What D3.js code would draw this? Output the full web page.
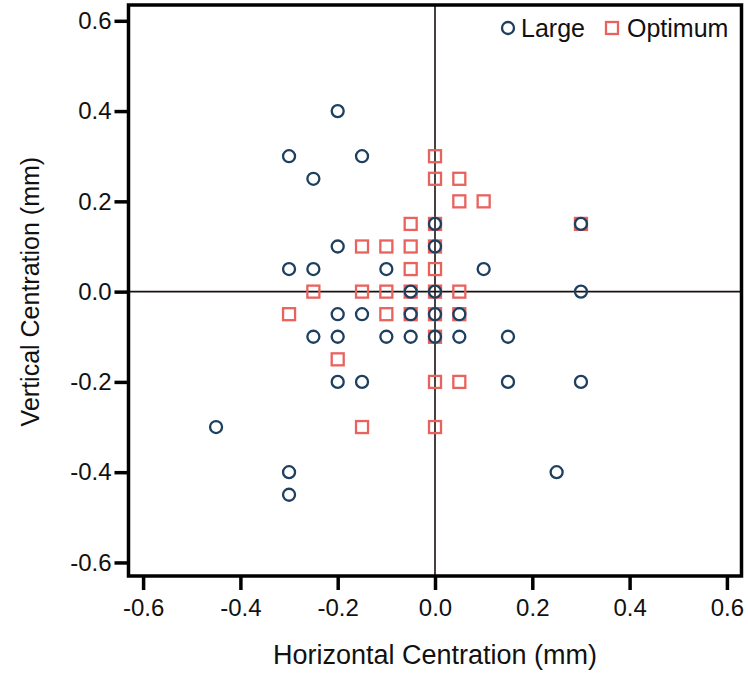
<!DOCTYPE html>
<html>
<head>
<meta charset="utf-8">
<script src="https://cdn.jsdelivr.net/npm/d3@7"></script>
<style>
  body { margin: 0; background: #fff; }
  svg { display: block; font-family: "Liberation Sans", Arial, sans-serif; }
</style>
</head>
<body>
<svg id="chart" width="748" height="675"></svg>
<script>
// Large group (circles): [horizontal, vertical] in mm
const largeX = [-0.2, -0.3, -0.15, -0.25, -0.2, -0.3, -0.25, -0.1, 0.1, 0.0, 0.0,
  -0.05, 0.0, 0.3, -0.2, -0.15, -0.05, 0.0, 0.05, -0.25, -0.2, -0.1, -0.05, 0.0,
  0.05, 0.15, -0.2, -0.15, 0.15, 0.3, -0.45, -0.3, -0.3, 0.25, 0.3];
const largeY = [0.4, 0.3, 0.3, 0.25, 0.1, 0.05, 0.05, 0.05, 0.05, 0.15, 0.1,
  0.0, 0.0, 0.0, -0.05, -0.05, -0.05, -0.05, -0.05, -0.1, -0.1, -0.1, -0.1, -0.1,
  -0.1, -0.1, -0.2, -0.2, -0.2, -0.2, -0.3, -0.4, -0.45, -0.4, 0.15];

// Optimum group (squares)
const optX = [0.0, 0.0, 0.05, 0.05, 0.1, -0.05, 0.0, -0.15, -0.1, -0.05, 0.0,
  -0.05, 0.0, -0.25, -0.15, -0.1, -0.05, 0.0, 0.05, -0.3, -0.1, -0.05, 0.0, 0.05,
  0.0, -0.2, 0.0, 0.05, -0.15, 0.0, 0.3];
const optY = [0.3, 0.25, 0.25, 0.2, 0.2, 0.15, 0.15, 0.1, 0.1, 0.1, 0.1,
  0.05, 0.05, 0.0, 0.0, 0.0, 0.0, 0.0, 0.0, -0.05, -0.05, -0.05, -0.05, -0.05,
  -0.1, -0.15, -0.2, -0.2, -0.3, -0.3, 0.15];

const tickValues = [-0.6, -0.4, -0.2, 0.0, 0.2, 0.4, 0.6];
const seriesNames = ["Large", "Optimum"];

const colLarge = "#1d3f60";
const colOpt = "#e8625e";

const svg = d3.select("#chart");
const margin = { top: 5, right: 6.5, bottom: 99, left: 128.5 };
const width = 748, height = 675;

const x = d3.scaleLinear().domain([-0.63, 0.63]).range([margin.left, width - margin.right]);
const y = d3.scaleLinear().domain([-0.63, 0.635]).range([height - margin.bottom, margin.top]);

const fmt = (d) => d3.format(".1f")(d).replace("\u2212", "-");

// axes
const xAxis = svg.append("g")
  .attr("transform", `translate(0,${height - margin.bottom})`)
  .call(d3.axisBottom(x).tickValues(tickValues).tickFormat(fmt).tickSize(14).tickPadding(9).tickSizeOuter(0));
const yAxis = svg.append("g")
  .attr("transform", `translate(${margin.left},0)`)
  .call(d3.axisLeft(y).tickValues(tickValues).tickFormat(fmt).tickSize(14).tickPadding(3).tickSizeOuter(0));

[xAxis, yAxis].forEach((a) => {
  a.select(".domain").remove();
  a.selectAll(".tick line").attr("stroke", "#000").attr("stroke-width", 3.5);
  a.selectAll(".tick text").attr("fill", "#111").attr("font-size", 24).attr("font-family", "Liberation Sans, Arial, sans-serif");
});

// zero lines
svg.append("line")
  .attr("x1", x(0)).attr("x2", x(0))
  .attr("y1", y.range()[1]).attr("y2", y.range()[0])
  .attr("stroke", "#1a1010").attr("stroke-width", 1.6);
svg.append("line")
  .attr("x1", x.range()[0]).attr("x2", x.range()[1])
  .attr("y1", y(0)).attr("y2", y(0))
  .attr("stroke", "#1a1010").attr("stroke-width", 1.6);

// squares (Optimum)
const sq = 12;
svg.append("g").selectAll("rect")
  .data(optX.map((v, i) => [v, optY[i]]))
  .join("rect")
  .attr("x", (d) => x(d[0]) - sq / 2)
  .attr("y", (d) => y(d[1]) - sq / 2)
  .attr("width", sq).attr("height", sq)
  .attr("fill", "none").attr("stroke", colOpt).attr("stroke-width", 2.3);

// circles (Large)
svg.append("g").selectAll("circle")
  .data(largeX.map((v, i) => [v, largeY[i]]))
  .join("circle")
  .attr("cx", (d) => x(d[0]))
  .attr("cy", (d) => y(d[1]))
  .attr("r", 6)
  .attr("fill", "none").attr("stroke", colLarge).attr("stroke-width", 2.3);

// frame
svg.append("rect")
  .attr("x", x.range()[0]).attr("y", y.range()[1])
  .attr("width", x.range()[1] - x.range()[0])
  .attr("height", y.range()[0] - y.range()[1])
  .attr("fill", "none").attr("stroke", "#000").attr("stroke-width", 3.5);

// legend
const leg = svg.append("g").attr("font-size", 25).attr("fill", "#111");
leg.append("circle").attr("cx", 508).attr("cy", 28).attr("r", 6)
  .attr("fill", "none").attr("stroke", colLarge).attr("stroke-width", 2.3);
leg.append("text").attr("x", 521).attr("y", 37).text(seriesNames[0]);
leg.append("rect").attr("x", 612 - sq / 2).attr("y", 28 - sq / 2).attr("width", sq).attr("height", sq)
  .attr("fill", "none").attr("stroke", colOpt).attr("stroke-width", 2.3);
leg.append("text").attr("x", 627).attr("y", 37).text(seriesNames[1]);

// axis titles
svg.append("text")
  .attr("x", x(0)).attr("y", 664)
  .attr("text-anchor", "middle").attr("font-size", 27).attr("fill", "#111")
  .text("Horizontal Centration (mm)");
svg.append("text")
  .attr("transform", `translate(39,${y(0)}) rotate(-90)`)
  .attr("text-anchor", "middle").attr("font-size", 25).attr("fill", "#111")
  .text("Vertical Centration (mm)");
</script>
</body>
</html>
